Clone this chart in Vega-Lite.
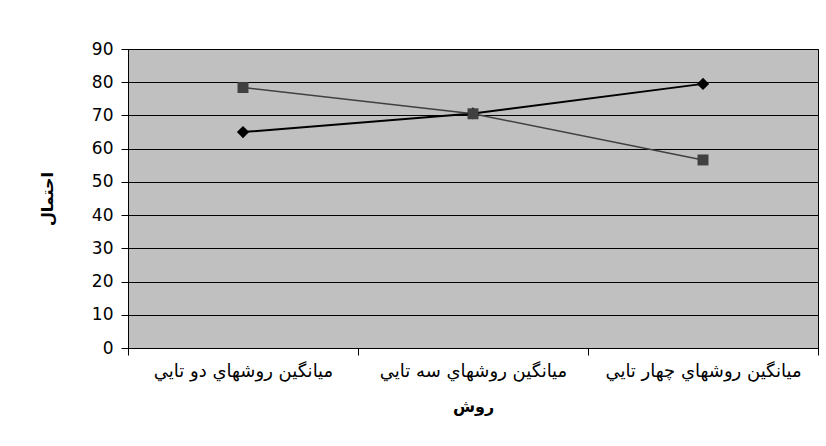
{
  "$schema": "https://vega.github.io/schema/vega-lite/v6.json",
  "autosize": "none",
  "width": 690,
  "height": 299,
  "padding": {"left": 128, "top": 49, "right": 8, "bottom": 98},
  "background": "white",
  "config": {
    "font": "DejaVu Sans",
    "view": {"fill": "#C0C0C0", "stroke": "#000000", "strokeWidth": 1}
  },
  "data": {
    "values": [
      {"method": "میانگین روشهاي دو تايي", "series": "A", "value": 65.0},
      {"method": "میانگین روشهاي سه تايي", "series": "A", "value": 70.6},
      {"method": "میانگین روشهاي چهار تايي", "series": "A", "value": 79.5},
      {"method": "میانگین روشهاي دو تايي", "series": "B", "value": 78.4},
      {"method": "میانگین روشهاي سه تايي", "series": "B", "value": 70.5},
      {"method": "میانگین روشهاي چهار تايي", "series": "B", "value": 56.6}
    ]
  },
  "encoding": {
    "x": {
      "field": "method",
      "type": "nominal",
      "sort": ["میانگین روشهاي دو تايي", "میانگین روشهاي سه تايي", "میانگین روشهاي چهار تايي"],
      "scale": {"paddingInner": 0, "paddingOuter": 0},
      "axis": {
        "title": "روش",
        "titleFont": "DejaVu Sans",
        "titleFontSize": 16,
        "titleFontWeight": "bold",
        "titleColor": "#000000",
        "titlePadding": 18,
        "labelAngle": 0,
        "labelFont": "DejaVu Sans",
        "labelFontSize": 18,
        "labelColor": "#000000",
        "labelPadding": 7,
        "labelLimit": 300,
        "tickBand": "extent",
        "tickColor": "#000000",
        "tickSize": 7,
        "domainColor": "#000000",
        "grid": false
      }
    },
    "y": {
      "field": "value",
      "type": "quantitative",
      "scale": {"domain": [0, 90], "nice": false},
      "axis": {
        "title": "احتمال",
        "titleFont": "DejaVu Sans",
        "titleFontSize": 16,
        "titleFontWeight": "bold",
        "titleColor": "#000000",
        "titlePadding": 36,
        "values": [0, 10, 20, 30, 40, 50, 60, 70, 80, 90],
        "labelFont": "DejaVu Sans",
        "labelFontSize": 17,
        "labelColor": "#000000",
        "labelPadding": 8,
        "tickColor": "#000000",
        "tickSize": 7,
        "domainColor": "#000000",
        "grid": true,
        "gridColor": "#000000",
        "gridOpacity": 1,
        "gridWidth": 1
      }
    },
    "color": {
      "field": "series",
      "type": "nominal",
      "scale": {"domain": ["A", "B"], "range": ["#000000", "#404040"]},
      "legend": null
    }
  },
  "layer": [
    {
      "mark": {"type": "line"},
      "encoding": {
        "strokeWidth": {
          "field": "series",
          "type": "nominal",
          "scale": {"domain": ["A", "B"], "range": [2, 1.5]},
          "legend": null
        }
      }
    },
    {
      "mark": {"type": "point", "filled": true, "opacity": 1},
      "encoding": {
        "shape": {
          "field": "series",
          "type": "nominal",
          "scale": {"domain": ["A", "B"], "range": ["diamond", "square"]},
          "legend": null
        },
        "size": {
          "field": "series",
          "type": "nominal",
          "scale": {"domain": ["A", "B"], "range": [150, 120]},
          "legend": null
        }
      }
    }
  ]
}
